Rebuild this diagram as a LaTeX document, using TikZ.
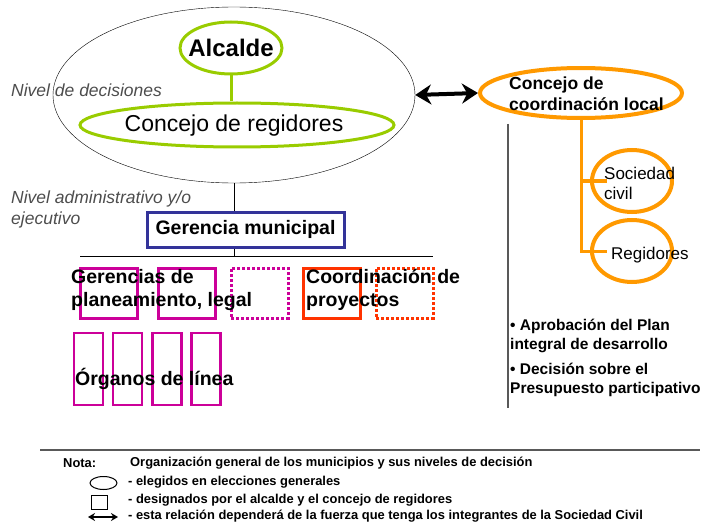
\documentclass[tikz,border=0pt]{standalone}
\usepackage{fontspec}
\setmainfont{Liberation Sans}
\usetikzlibrary{shapes.geometric,arrows.meta}
\definecolor{elgreen}{HTML}{99CC00}
\definecolor{elorange}{HTML}{FF9900}
\definecolor{mgenta}{HTML}{CC0099}
\definecolor{rojo}{HTML}{FF3300}
\definecolor{azul}{HTML}{333399}
\definecolor{nivgray}{HTML}{4D4D4D}
\definecolor{sepgray}{HTML}{595959}
\begin{document}
\begin{tikzpicture}[x=1pt,y=-1pt,
    oval/.style={ellipse, draw, inner sep=0pt},
    caja/.style={rectangle, draw, inner sep=0pt, line width=3pt},
    txt/.style={inner sep=0pt, align=left},
    nivel/.style={txt, anchor=west, text=nivgray, font=\fontsize{17.5}{21}\selectfont\itshape},
    bigb/.style={txt, font=\fontsize{19.5}{23}\selectfont\bfseries},
    nota/.style={txt, anchor=west, font=\fontsize{12.9}{15}\selectfont\bfseries}]
  \useasboundingbox (0,0) rectangle (715,524);

  % nivel de decisiones
  \node[oval, thin, minimum width=362pt, minimum height=176pt] (decision) at (234,95) {};
  \node[oval, elgreen, line width=3pt, minimum width=102pt, minimum height=52pt] (alcalde) at (231,48) {};
  \node[txt, font=\fontsize{24}{28}\selectfont\bfseries] (alcaldeT) at (alcalde) {Alcalde};
  \node[oval, elgreen, line width=3pt, minimum width=314pt, minimum height=44pt] (regid) at (237,125) {};
  \node[txt, font=\fontsize{23}{27}\selectfont] (regidT) at (234,126) {Concejo de regidores};
  \draw[elgreen, line width=3pt] (alcalde.south) -- (alcalde.south |- regid.north);
  \node[nivel] (nivDec) at (11,90) {Nivel de decisiones};

  % concejo de coordinacion local
  \node[oval, elorange, line width=4pt, minimum width=202pt, minimum height=50pt] (coord) at (581,93) {};
  \node[txt, anchor=west, font=\fontsize{17.5}{21}\selectfont\bfseries] (coordT) at (509,94) {Concejo de\\coordinación local};
  \draw[{Stealth[length=16pt,width=20pt]}-{Stealth[length=16pt,width=20pt]}, line width=4pt] (decision.east) -- (coord.west);
  \node[oval, elorange, line width=4pt, minimum width=80pt, minimum height=62pt] (soc) at (632,181) {};
  \node[oval, elorange, line width=4pt, minimum width=80pt, minimum height=62pt] (reg) at (632,251) {};
  \draw[elorange, line width=3pt] (coord.south) |- ([xshift=17pt]soc.west);
  \draw[elorange, line width=3pt] (coord.south) |- ([xshift=17pt]reg.west);
  \node[txt, anchor=west, font=\fontsize{17}{20}\selectfont] (socT) at (604,183) {Sociedad\\civil};
  \node[txt, anchor=west, font=\fontsize{17}{20}\selectfont] (regT) at (611,255) {Regidores};

  \draw[sepgray, line width=2pt] (508,124) -- (508,408);
  \node[txt, anchor=west, font=\fontsize{15.5}{19}\selectfont\bfseries] (plan) at (510,336) {• Aprobación del Plan\\integral de desarrollo};
  \node[txt, anchor=west, font=\fontsize{15.5}{19}\selectfont\bfseries] (presu) at (510,380) {• Decisión sobre el\\Presupuesto participativo};

  % nivel administrativo
  \node[nivel] (nivAdm) at (11,209) {Nivel administrativo y/o\\ejecutivo};
  \node[caja, azul, fill=white, minimum width=197pt, minimum height=35pt] (geren) at (245.5,229.5) {};
  \node[bigb] (gerenT) at (geren) {Gerencia municipal};
  \coordinate (hl) at (80,256);
  \coordinate (hr) at (433,256);
  \draw (hl) -- (hr);
  \draw (decision.south) -- (decision.south |- geren.north);
  \draw (decision.south |- geren.south) -- (decision.south |- hl);

  \node[caja, mgenta, minimum width=57pt, minimum height=50pt] (g1) at (108.5,293) {};
  \node[caja, mgenta, minimum width=57pt, minimum height=50pt] (g2) at (186.5,293) {};
  \node[caja, mgenta, dash pattern=on 3pt off 2pt, minimum width=57pt, minimum height=50pt] (g3) at (259.5,293) {};
  \node[caja, rojo, minimum width=57pt, minimum height=50pt] (p1) at (332,293) {};
  \node[caja, rojo, dash pattern=on 3pt off 2pt, minimum width=57pt, minimum height=50pt] (p2) at (404.5,293) {};
  \node[bigb, anchor=west] (gerenciasT) at (71,290) {Gerencias de\\planeamiento, legal};
  \node[bigb, anchor=west] (proyT) at (306,290) {Coordinación de\\proyectos};

  \foreach \i/\x in {1/88.5, 2/127.5, 3/167, 4/206}
    \node[caja, mgenta, line width=2.5pt, minimum width=29pt, minimum height=72pt] (o\i) at (\x,369) {};
  \node[bigb, anchor=west] (organosT) at (75,379) {Órganos de línea};

  % nota
  \draw[sepgray, line width=2pt] (40,450) -- (700,450);
  \node[nota] (notaT) at (63,463) {Nota:};
  \node[nota] (tituloT) at (130,463) {Organización general de los municipios y sus niveles de decisión};
  \node[oval, line width=1pt, minimum width=27pt, minimum height=13pt] (legOval) at (103.5,483) {};
  \node[rectangle, draw, line width=1pt, minimum width=16pt, minimum height=14pt] (legBox) at (99,502) {};
  \coordinate (legA) at (88,517);
  \coordinate (legB) at (118,517);
  \draw[{Stealth[length=7pt,width=8pt]}-{Stealth[length=7pt,width=8pt]}, line width=2pt] (legA) -- (legB);
  \node[nota] (item1) at (128,482) {- elegidos en elecciones generales};
  \node[nota] (item2) at (128,500) {- designados por el alcalde y el concejo de regidores};
  \node[nota] (item3) at (128,516) {- esta relación dependerá de la fuerza que tenga los integrantes de la Sociedad Civil};
\end{tikzpicture}
\end{document}
